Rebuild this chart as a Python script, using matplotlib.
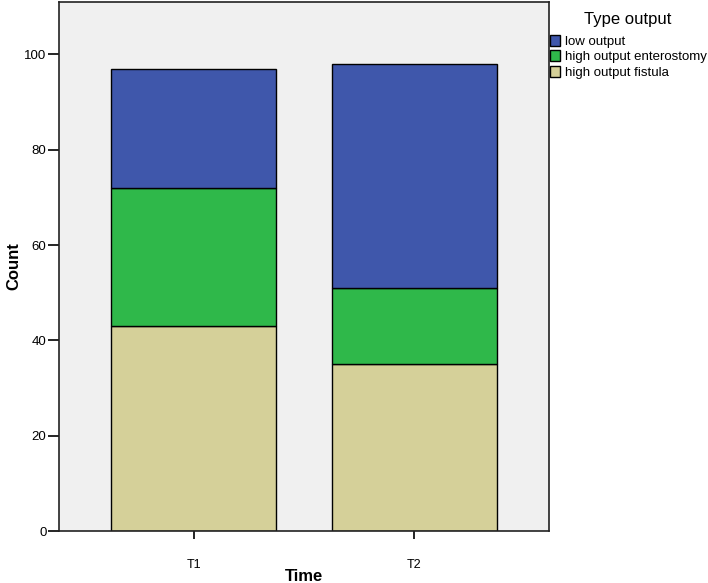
import matplotlib.pyplot as plt
import numpy as np
from matplotlib.patches import Patch

plt.rcParams['font.family'] = ['Liberation Sans', 'DejaVu Sans']

times = ['T1', 'T2']
fistula = [43, 35]
enterostomy = [29, 16]
low = [25, 47]
labels = ['low output', 'high output enterostomy', 'high output fistula']
colors = ['#3F57AB', '#2FB84A', '#D5D099']

fig = plt.figure(figsize=(7.08, 5.83), dpi=100)
ax = fig.add_axes([59 / 708, 52 / 583, 490 / 708, 529 / 583])
ax.set_facecolor('#F0F0F0')

x = np.arange(len(times))
w = 0.75
bottom = np.zeros(len(times))
for vals, col in [(fistula, colors[2]), (enterostomy, colors[1]), (low, colors[0])]:
    ax.bar(x, vals, w, bottom=bottom, color=col, edgecolor='black', linewidth=1.0)
    bottom += np.array(vals)

ax.set_xlim(-0.61, 1.61)
ax.set_ylim(0, 111)
ax.set_yticks([0, 20, 40, 60, 80, 100])
ax.set_xticks(x)
ax.set_xticklabels(times, fontsize=9)
ax.tick_params(axis='y', labelsize=9.5, length=8, width=1.2, pad=1)
ax.tick_params(axis='x', length=6, width=1.2, pad=14)
for s in ax.spines.values():
    s.set_linewidth(1.2)
    s.set_color('#222222')

ax.set_ylabel('Count', fontsize=12, fontweight='bold', va='center')
ax.yaxis.set_label_coords(-0.093, 0.5)
ax.set_xlabel('Time', fontsize=12, fontweight='bold', labelpad=-1)

handles = [Patch(facecolor=c, edgecolor='black', linewidth=1.0) for c in colors]
leg = fig.legend(handles, labels, title='Type output', loc='upper left',
                 bbox_to_anchor=(547 / 708, 1 - 9 / 583), frameon=False,
                 fontsize=9.5, title_fontsize=12, handlelength=0.8, handleheight=0.9,
                 handletextpad=0.35, labelspacing=0.18, borderaxespad=0, borderpad=0.2)
leg._legend_box.align = 'center'
leg._legend_box.sep = 6

fig.savefig('out.png', dpi=100)
